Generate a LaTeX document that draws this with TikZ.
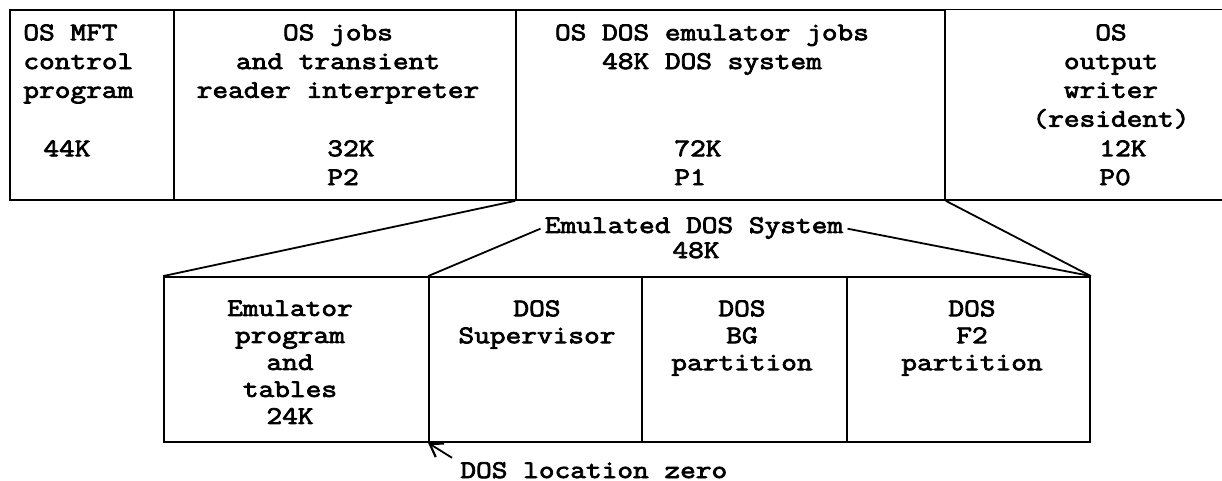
\documentclass[tikz,border=0pt]{standalone}
\usepackage{fontspec}
\newfontfamily\tw[FakeStretch=1.2,FakeBold=3]{Latin Modern Mono}
\usetikzlibrary{fit,arrows.meta}
\begin{document}
\begin{tikzpicture}[x=0.5pt,y=-0.5pt,
  cell/.style={draw,line width=0.9pt,inner sep=0pt},
  hid/.style={inner sep=0pt},
  txt/.style={font=\tw\fontsize{12.7}{14.4}\selectfont,inner sep=0pt},
  txtb/.style={font=\tw\fontsize{12.7}{13.5}\selectfont,inner sep=0pt},
  conn/.style={line width=0.9pt},
  arr/.style={line width=0.9pt,-{Straight Barb[length=6pt,width=8pt,line width=1.1pt]}}]
\useasboundingbox (0,0) rectangle (1222,481);
% top row
\node[cell,fit={(10,10) (174,200)}] (b1) {};
\node[cell,fit={(174,10) (516,200)}] (b2) {};
\node[cell,fit={(516,10) (945,200)}] (b3) {};
\node[hid,fit={(945,10) (1222,200)}] (b4) {};
\draw[conn] (b4.north west) -- (b4.north east);
\draw[conn] (b4.south west) -- (b4.south east);
% bottom row
\node[cell,fit={(164,277) (429,442)}] (c1) {};
\node[cell,fit={(429,277) (642,442)}] (c2) {};
\node[cell,fit={(642,277) (847,442)}] (c3) {};
\node[cell,fit={(847,277) (1090,442)}] (c4) {};
% top texts
\node[txt,align=left,anchor=north west] (t1) at (23,24) {OS MFT\\control\\program};
\node[txt,anchor=north west] (t1k) at (43,140) {44K};
\node[txt,align=center,anchor=north] (t2) at (338,24) {OS jobs\\and transient\\reader interpreter};
\node[txt,align=left,anchor=north west] (t2k) at (327,140) {32K\\P2};
\node[txt,align=center,anchor=north] (t3) at (712,24) {OS DOS emulator jobs\\48K DOS system};
\node[txt,align=left,anchor=north west] (t3k) at (674,140) {72K\\P1};
\node[txt,align=center,anchor=north] (t4) at (1111,24) {OS\\output\\writer\\(resident)};
\node[txt,align=left,anchor=north west] (t4k) at (1099,140) {12K\\P0};
% bottom texts
\node[txtb,align=center,anchor=north] (u1) at (290,300) {Emulator\\program\\and\\tables\\24K};
\node[txtb,align=center,anchor=north] (u2) at (537,300) {DOS\\Supervisor};
\node[txtb,align=center,anchor=north] (u3) at (742,300) {DOS\\BG\\partition};
\node[txtb,align=center,anchor=north] (u4) at (972,300) {DOS\\F2\\partition};
% expansion lines
\draw[conn] (b3.south west) -- (c1.north west);
\draw[conn] (b3.south east) -- (c4.north east);
\node[txt,anchor=base,inner xsep=2pt] (emu) at (694,233) {Emulated DOS System};
\node[txt,anchor=base] (k48) at (696,258) {48K};
\draw[conn] (emu.mid west) -- (c2.north west);
\draw[conn] (emu.mid east) -- (c4.north east);
% location zero
\node[txt,anchor=base west] (loc) at (460,478) {DOS location zero};
\draw[arr] ([xshift=-4pt,yshift=2pt]loc.north west) -- (c2.south west);
\end{tikzpicture}
\end{document}
